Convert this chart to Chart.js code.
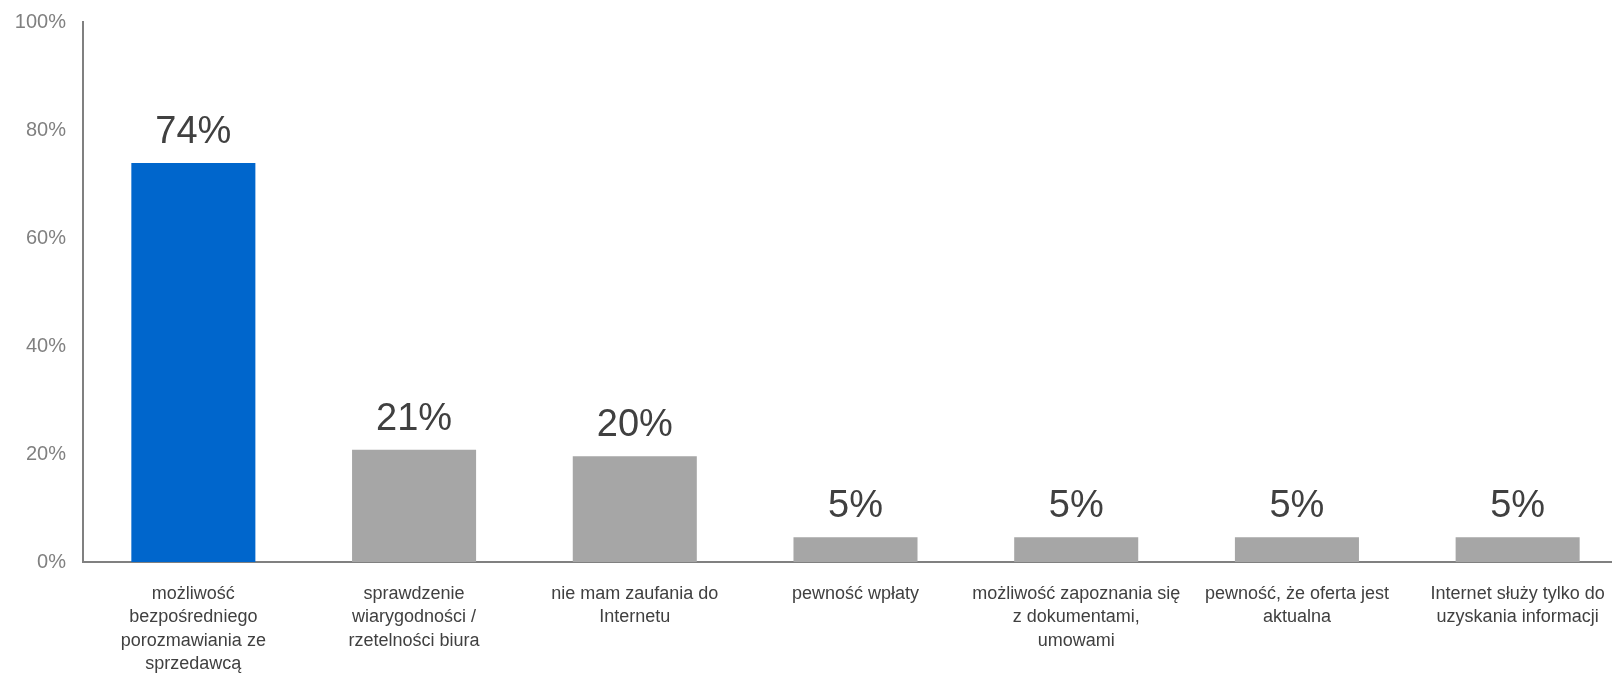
<!DOCTYPE html>
<html>
<head>
<meta charset="utf-8">
<script src="https://cdn.jsdelivr.net/npm/chart.js@4/dist/chart.umd.min.js"></script>
<style>
    html, body { margin: 0; padding: 0; background: #fff; overflow: hidden; }
    /* the plot runs a little past the right edge of the window, like the original */
    #wrap { width: 1628px; height: 677px; position: relative; }
</style>
</head>
<body>
<div id="wrap"><canvas id="barChart"></canvas></div>
<script>
// Categories (split into lines as in the picture)
const categories = [
    ['możliwość', 'bezpośredniego', 'porozmawiania ze', 'sprzedawcą'],
    ['sprawdzenie', 'wiarygodności /', 'rzetelności biura'],
    ['nie mam zaufania do', 'Internetu'],
    ['pewność wpłaty'],
    ['możliwość zapoznania się', 'z dokumentami,', 'umowami'],
    ['pewność, że oferta jest', 'aktualna'],
    ['Internet służy tylko do', 'uzyskania informacji']
];
// Values in percent
const values = [73.9, 20.8, 19.6, 4.6, 4.6, 4.6, 4.6];
// Labels shown above the bars
const valueLabels = ['74%', '21%', '20%', '5%', '5%', '5%', '5%'];
const barColors = ['#0066cc', '#a6a6a6', '#a6a6a6', '#a6a6a6', '#a6a6a6', '#a6a6a6', '#a6a6a6'];
const yTicks = [0, 20, 40, 60, 80, 100];

const fontFamily = '"Liberation Sans", Arial, sans-serif';

// Draw value labels above bars
const barLabels = {
    id: 'barLabels',
    afterDatasetsDraw(chart) {
        const ctx = chart.ctx;
        const meta = chart.getDatasetMeta(0);
        ctx.save();
        ctx.font = '38px ' + fontFamily;
        ctx.fillStyle = '#404040';
        ctx.textAlign = 'center';
        ctx.textBaseline = 'alphabetic';
        meta.data.forEach((bar, i) => {
            ctx.fillText(valueLabels[i], bar.x, bar.y - 20);
        });
        ctx.restore();
    }
};

const ctx = document.getElementById('barChart').getContext('2d');
const chart = new Chart(ctx, {
    type: 'bar',
    data: {
        labels: categories,
        datasets: [{
            data: values,
            backgroundColor: barColors,
            barPercentage: 0.562,
            categoryPercentage: 1.0
        }]
    },
    options: {
        responsive: true,
        maintainAspectRatio: false,
        animation: false,
        layout: { padding: 0 },
        plugins: {
            legend: { display: false },
            tooltip: { enabled: false }
        },
        scales: {
            x: {
                grid: { display: false, drawTicks: false },
                border: { display: true, color: '#808080', width: 2 },
                afterFit: (axis) => { axis.height = 115; },
                ticks: {
                    color: '#404040',
                    font: { family: fontFamily, size: 18, lineHeight: 1.31 },
                    padding: 20,
                    maxRotation: 0,
                    autoSkip: false
                }
            },
            y: {
                min: 0,
                max: 100,
                afterBuildTicks: (axis) => { axis.ticks = yTicks.map(v => ({ value: v })); },
                afterFit: (axis) => { axis.width = 83; axis.paddingTop = 22; },
                grid: { display: false, drawTicks: false },
                border: { display: true, color: '#808080', width: 2 },
                ticks: {
                    color: '#808080',
                    font: { family: fontFamily, size: 20 },
                    padding: 17,
                    callback: (v) => v + '%'
                }
            }
        }
    },
    plugins: [barLabels]
});
</script>
</body>
</html>
